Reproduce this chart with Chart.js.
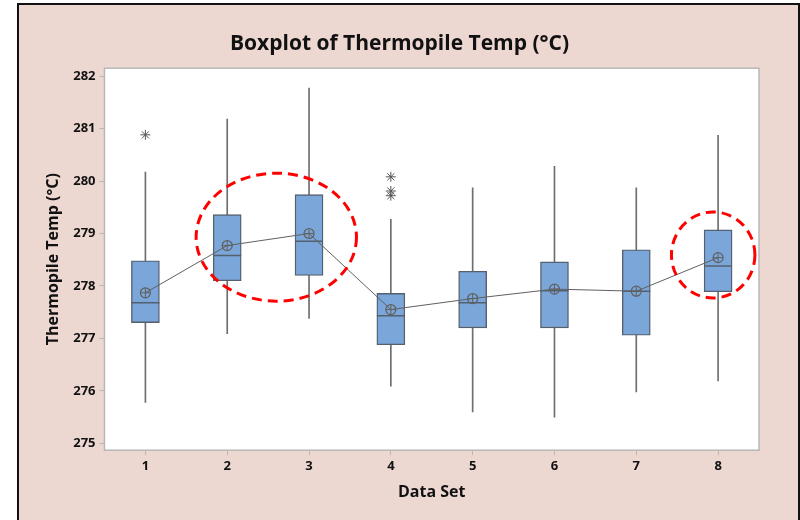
<!DOCTYPE html>
<html>
<head>
<meta charset="utf-8">
<script src="https://cdn.jsdelivr.net/npm/chart.js@4.4.1/dist/chart.umd.min.js"></script>
<style>
	html, body { margin: 0; padding: 0; background: #fff; }
	#wrap { position: relative; width: 800px; height: 520px; overflow: hidden; }
	#frame { position: absolute; left: 17px; top: 3px; width: 779px; height: 530px;
		background: #edd7d1; border: 2px solid #111; }
	#box { position: absolute; left: 0; top: 0; width: 800px; height: 520px; }
</style>
</head>
<body>
<div id="wrap">
	<div id="frame"></div>
	<div id="box"><canvas id="chart"></canvas></div>
</div>
<script>
// values
const dataSets = ['1', '2', '3', '4', '5', '6', '7', '8'];
const whiskerLow = [275.78, 277.09, 277.38, 276.09, 275.60, 275.50, 275.98, 276.19];
const q1 = [277.30, 278.10, 278.20, 276.88, 277.20, 277.20, 277.06, 277.89];
const medians = [277.68, 278.58, 278.85, 277.43, 277.68, 277.91, 277.90, 278.38];
const q3 = [278.48, 279.36, 279.74, 277.86, 278.28, 278.46, 278.69, 279.07];
const whiskerHigh = [280.17, 281.18, 281.77, 279.27, 279.87, 280.28, 279.87, 280.87];
const means = [277.87, 278.77, 279.00, 277.55, 277.76, 277.94, 277.90, 278.54];
const outlierSet = ['1', '4', '4', '4'];
const outlierValue = [280.88, 280.08, 279.81, 279.72];
const yTicks = [275, 276, 277, 278, 279, 280, 281, 282];

// red dashed circles drawn on top (category index, value, half width in categories, half height in degrees)
const highlights = [
	{ at: 1.6, value: 278.93, rx: 0.98, ry: 1.22 },
	{ at: 6.94, value: 278.59, rx: 0.51, ry: 0.82 }
];

const boxFill = '#7ba6d9';
const boxLine = '#55606f';
const lineGray = '#606060';

let plotFrame = {
	id: 'plotFrame',
	beforeDraw: (chart) => {
		let a = chart.chartArea;
		let ctx = chart.ctx;
		ctx.save();
		ctx.fillStyle = '#ffffff';
		ctx.fillRect(a.left, a.top, a.right - a.left, a.bottom - a.top);
		ctx.restore();
	},
	afterDraw: (chart) => {
		let a = chart.chartArea;
		let ctx = chart.ctx;
		let x = chart.scales.x;
		let y = chart.scales.y;
		ctx.save();
		ctx.strokeStyle = '#b8b8b8';
		ctx.lineWidth = 1.5;
		ctx.strokeRect(a.left, a.top, a.right - a.left, a.bottom - a.top);
		ctx.strokeStyle = '#ff0000';
		ctx.lineWidth = 3;
		ctx.setLineDash([10, 6]);
		let step = x.getPixelForValue(1) - x.getPixelForValue(0);
		for (let h of highlights) {
			let cx = x.getPixelForValue(0) + h.at * step;
			let cy = y.getPixelForValue(h.value);
			let rx = h.rx * step;
			let ry = Math.abs(y.getPixelForValue(h.value + h.ry) - cy);
			ctx.beginPath();
			ctx.ellipse(cx, cy, rx, ry, 0, 0, Math.PI * 2);
			ctx.stroke();
		}
		ctx.restore();
	}
};

let whiskers = dataSets.map((d, i) => [whiskerLow[i], whiskerHigh[i]]);
let boxes = dataSets.map((d, i) => [q1[i], q3[i]]);
let outliers = outlierSet.map((d, i) => ({ x: d, y: outlierValue[i] }));

let ctx = document.getElementById('chart').getContext('2d');
let myChart = new Chart(ctx, {
	type: 'bar',
	data: {
		labels: dataSets,
		datasets: [
			{
				type: 'bar',
				data: whiskers,
				backgroundColor: '#6e6e6e',
				barThickness: 1,
				grouped: false,
				order: 5
			},
			{
				type: 'bar',
				data: boxes,
				backgroundColor: boxFill,
				borderColor: boxLine,
				borderWidth: 1.4,
				borderSkipped: false,
				barThickness: 28,
				grouped: false,
				order: 4
			},
			{
				type: 'line',
				data: medians,
				showLine: false,
				pointStyle: 'line',
				pointRadius: 14,
				pointBorderColor: boxLine,
				pointBorderWidth: 1.5,
				order: 3
			},
			{
				type: 'line',
				data: means,
				borderColor: lineGray,
				borderWidth: 1,
				pointStyle: 'circle',
				pointRadius: 5,
				pointBackgroundColor: 'rgba(0,0,0,0)',
				pointBorderColor: lineGray,
				pointBorderWidth: 1.2,
				order: 2
			},
			{
				type: 'line',
				data: means,
				showLine: false,
				pointStyle: 'cross',
				pointRadius: 5,
				pointBorderColor: lineGray,
				pointBorderWidth: 1,
				order: 1
			},
			{
				type: 'line',
				data: outliers,
				showLine: false,
				pointStyle: 'star',
				pointRadius: 5,
				pointBorderColor: '#555555',
				pointBorderWidth: 1,
				order: 0
			}
		]
	},
	options: {
		responsive: true,
		maintainAspectRatio: false,
		animation: false,
		layout: { padding: { left: 40, right: 41, top: 0, bottom: 14 } },
		plugins: {
			legend: { display: false },
			tooltip: { enabled: false },
			title: {
				display: true,
				text: 'Boxplot of Thermopile Temp (°C)',
				color: '#111',
				font: { family: 'Open Sans', size: 21, weight: 'bold' },
				padding: { top: 31, bottom: 12 }
			}
		},
		scales: {
			x: {
				type: 'category',
				offset: true,
				grid: { display: true, offset: false, drawOnChartArea: false, tickLength: 5, color: '#b8b8b8' },
				border: { display: true, color: '#b8b8b8' },
				ticks: { color: '#111', font: { family: 'Open Sans', size: 13, weight: 'bold' }, padding: 3 },
				title: {
					display: true,
					text: 'Data Set',
					color: '#111',
					font: { family: 'Open Sans', size: 16, weight: 'bold' },
					padding: { top: 6, bottom: 4 }
				}
			},
			y: {
				min: 274.87,
				max: 282.15,
				afterBuildTicks: (scale) => {
					scale.ticks = yTicks.map(v => ({ value: v }));
				},
				grid: { display: true, drawOnChartArea: false, tickLength: 5, color: '#b8b8b8' },
				border: { display: true, color: '#b8b8b8' },
				ticks: { color: '#111', font: { family: 'Open Sans', size: 13, weight: 'bold' }, padding: 4 },
				title: {
					display: true,
					text: 'Thermopile Temp (°C)',
					color: '#111',
					font: { family: 'Open Sans', size: 16, weight: 'bold' },
					padding: { top: 4, bottom: 6 }
				}
			}
		}
	},
	plugins: [plotFrame]
});
</script>
</body>
</html>
